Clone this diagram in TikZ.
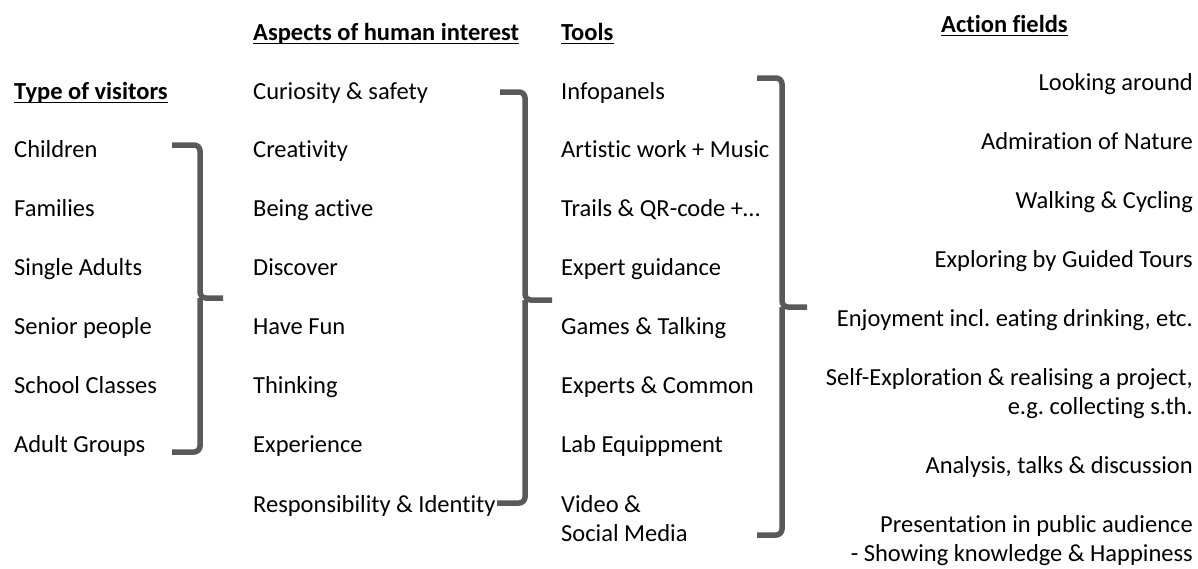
\documentclass[tikz,border=0pt]{standalone}
\usepackage{fontspec}
\setmainfont{Carlito}[Ligatures=NoCommon]
\frenchspacing
\definecolor{bracegray}{RGB}{89,89,89}

\begin{document}
\begin{tikzpicture}[
    x = 1pt, y = -1pt,
    every node/.style = {inner sep = 0pt, font = \fontsize{24.5}{28.5}\selectfont},
    item/.style = {anchor = base west},
    field/.style = {anchor = base east, align = right},
    head/.style = {anchor = base west, font = \fontsize{24.5}{28.5}\selectfont\bfseries},
    brace/.style = {draw = bracegray, line width = 5.5pt, rounded corners = 6pt}]

\useasboundingbox (0,0) rectangle (1198,568);

% column headings
\path (14,99) node[head](hvis) {Type of visitors}
	  (253,40) node[head](hasp) {Aspects of human interest}
	  (561,40) node[head](htool) {Tools}
	  (941,32) node[head](hact) {Action fields};
\foreach \h in {hvis,hasp,htool,hact}
	\draw[line width = 1.4pt] ([yshift=-3.5pt]\h.base west) -- ([yshift=-3.5pt]\h.base east);

% visitors
\path (14,157) node[item](vchild) {Children}
	  (14,216) node[item](vfam) {Families}
	  (14,275) node[item](vsingle) {Single Adults}
	  (14,334) node[item](vsenior) {Senior people}
	  (14,393) node[item](vschool) {School Classes}
	  (14,452) node[item](vadult) {Adult Groups};

% aspects
\path (253,99) node[item](acur) {Curiosity \& safety}
	  (253,157) node[item](acrea) {Creativity}
	  (253,216) node[item](aact) {Being active}
	  (253,275) node[item](adisc) {Discover}
	  (253,334) node[item](afun) {Have Fun}
	  (253,393) node[item](athink) {Thinking}
	  (253,452) node[item](aexp) {Experience}
	  (253,512) node[item](aresp) {Responsibility \& Identity};

% tools (two-line nodes sit on the baseline of their last line)
\path (561,99) node[item](tinfo) {Infopanels}
	  (561,157) node[item](tart) {Artistic work + Music}
	  (561,216) node[item](ttrail) {Trails \& QR-code +…}
	  (561,275) node[item](tguide) {Expert guidance}
	  (561,334) node[item](tgame) {Games \& Talking}
	  (561,393) node[item](texp) {Experts \& Common}
	  (561,452) node[item](tlab) {Lab Equippment}
	  (561,541) node[item, align = left](tvid) {Video \&\\Social Media};

% action fields
\path (1193,90) node[field](flook) {Looking around}
	  (1193,149) node[field](fadm) {Admiration of Nature}
	  (1193,208) node[field](fwalk) {Walking \& Cycling}
	  (1193,267) node[field](ftour) {Exploring by Guided Tours}
	  (1193,326) node[field](fenj) {Enjoyment incl. eating drinking, etc.}
	  (1193,414) node[field](fself) {Self-Exploration \& realising a project,\\e.g. collecting s.th.}
	  (1193,473) node[field](fanal) {Analysis, talks \& discussion}
	  (1193,561) node[field](fpres) {Presentation in public audience\\- Showing knowledge \& Happiness};

% brackets
\draw[brace] (172,145) -- (200,145) -- (200,298) -- (223,298)
	  (200,298) -- (200,452) -- (172,452);
\draw[brace] (500,92) -- (525,92) -- (525,300) -- (552,300)
	  (525,300) -- (525,503) -- (497,503);
\draw[brace] (757,78) -- (782,78) -- (782,307) -- (807,307)
	  (782,307) -- (782,535) -- (757,535);
\end{tikzpicture}
\end{document}
